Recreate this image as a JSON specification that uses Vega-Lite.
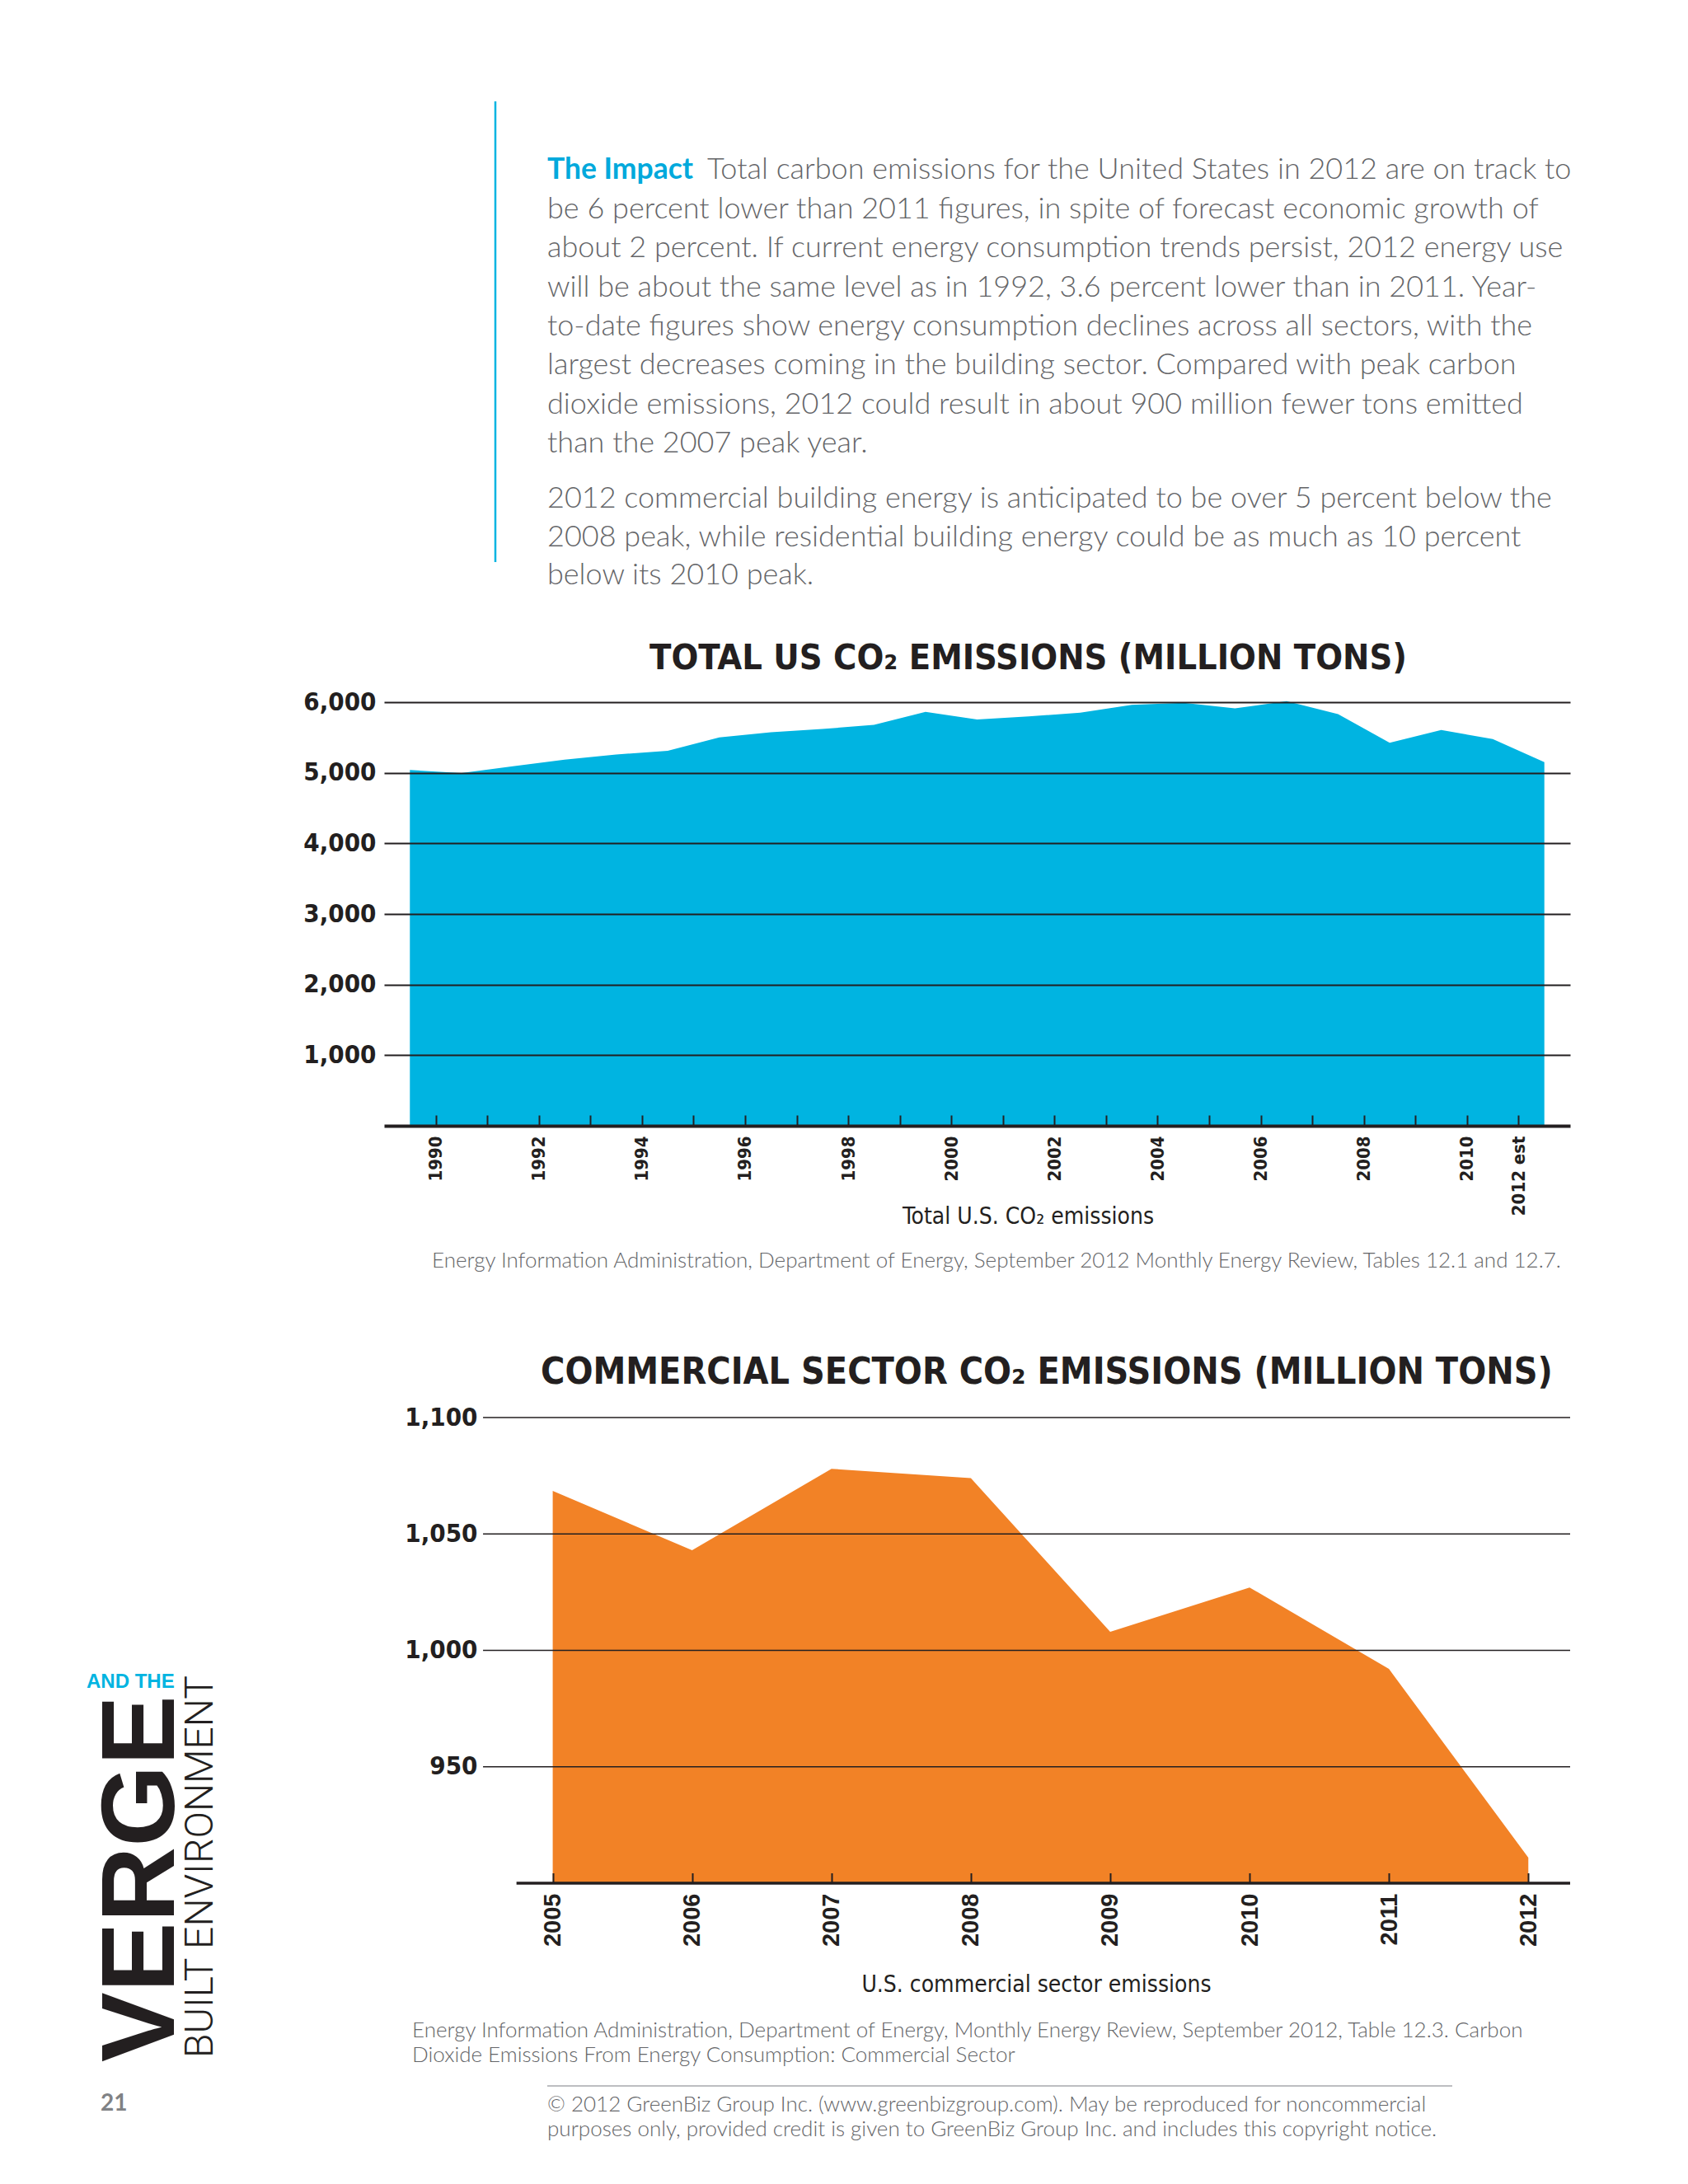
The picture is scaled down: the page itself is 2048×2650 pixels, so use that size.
{
  "$schema": "https://vega.github.io/schema/vega-lite/v6.json",
  "background": "white",
  "padding": {"left": 105, "top": 121, "right": 0, "bottom": 0},
  "spacing": 354,
  "bounds": "flush",
  "config": {"view": {"stroke": null}},
  "vconcat": [
    {
      "width": 1439,
      "height": 514,
      "data": {"values": [
        {"year": 1990, "co2": 5039}, {"year": 1991, "co2": 4996}, {"year": 1992, "co2": 5093},
        {"year": 1993, "co2": 5185}, {"year": 1994, "co2": 5260}, {"year": 1995, "co2": 5310},
        {"year": 1996, "co2": 5500}, {"year": 1997, "co2": 5575}, {"year": 1998, "co2": 5620},
        {"year": 1999, "co2": 5678}, {"year": 2000, "co2": 5862}, {"year": 2001, "co2": 5755},
        {"year": 2002, "co2": 5800}, {"year": 2003, "co2": 5850}, {"year": 2004, "co2": 5962},
        {"year": 2005, "co2": 5990}, {"year": 2006, "co2": 5912}, {"year": 2007, "co2": 6015},
        {"year": 2008, "co2": 5830}, {"year": 2009, "co2": 5425}, {"year": 2010, "co2": 5605},
        {"year": 2011, "co2": 5478}, {"year": 2012, "co2": 5150}
      ]},
      "layer": [
        {
          "mark": {"type": "area", "color": "#00b4e1", "opacity": 1},
          "encoding": {
            "x": {
              "field": "year", "type": "quantitative",
              "scale": {"domain": [1989.5, 2012.5], "nice": false, "zero": false},
              "axis": {
                "values": [1990.5, 1991.5, 1992.5, 1993.5, 1994.5, 1995.5, 1996.5, 1997.5, 1998.5, 1999.5, 2000.5, 2001.5, 2002.5, 2003.5, 2004.5, 2005.5, 2006.5, 2007.5, 2008.5, 2009.5, 2010.5, 2011.5],
                "labelExpr": "datum.value == 2011.5 ? '2012 est' : ((datum.value - 0.5) % 2 == 0 ? format(datum.value - 0.5, 'd') : '')",
                "labelAngle": 270, "labelAlign": "right", "labelBaseline": "middle",
                "labelFont": "Liberation Sans Narrow, DejaVu Sans Condensed, sans-serif",
                "labelFontSize": 22, "labelFontWeight": "bold", "labelColor": "#231f20",
                "labelPadding": 25, "labelOverlap": false, "labelFlush": false,
                "tickSize": -13, "tickWidth": 2, "tickColor": "#231f20",
                "domainColor": "#231f20", "domainWidth": 4, "grid": false,
                "title": "Total U.S. CO₂ emissions",
                "titleFont": "Liberation Sans Narrow, DejaVu Sans Condensed, sans-serif",
                "titleFontSize": 28, "titleFontWeight": "normal", "titleColor": "#231f20",
                "titleX": 781, "titleY": 118, "titleAlign": "center", "titleBaseline": "alphabetic",
                "zindex": 1
              }
            },
            "y": {
              "field": "co2", "type": "quantitative",
              "scale": {"domain": [0, 6000], "nice": false},
              "axis": {
                "values": [1000, 2000, 3000, 4000, 5000, 6000], "format": ",d",
                "labelFont": "Liberation Sans Narrow, DejaVu Sans Condensed, sans-serif",
                "labelFontSize": 31, "labelFontWeight": "bold", "labelColor": "#231f20",
                "labelPadding": 10, "ticks": false, "domain": false,
                "grid": true, "gridColor": "#231f20", "gridWidth": 2, "gridOpacity": 1,
                "title": null, "zindex": 1
              }
            }
          }
        },
        {
          "data": {"values": [{}]},
          "mark": {"type": "rule", "color": "#00b4e1", "strokeWidth": 2.5},
          "encoding": {"x": {"value": 135}, "y": {"value": -729}, "y2": {"value": -170}}
        },
        {
          "data": {"values": [{}]},
          "mark": {"type": "text", "text": "The Impact", "align": "left", "baseline": "alphabetic", "font": "Lato, Open Sans, sans-serif", "fontSize": 35.5, "fontWeight": "bold", "color": "#00a9dc"},
          "encoding": {"x": {"value": 198}, "y": {"value": -635}}
        },
        {
          "data": {"values": [{}]},
          "mark": {"type": "text", "text": "Total carbon emissions for the United States in 2012 are on track to", "align": "left", "baseline": "alphabetic", "font": "Lato, Open Sans, sans-serif", "fontSize": 36, "fontWeight": 300, "color": "#646568"},
          "encoding": {"x": {"value": 392}, "y": {"value": -635}}
        },
        {
          "data": {"values": [{}]},
          "mark": {"type": "text", "text": [
            "be 6 percent lower than 2011 figures, in spite of forecast economic growth of",
            "about 2 percent. If current energy consumption trends persist, 2012 energy use",
            "will be about the same level as in 1992, 3.6 percent lower than in 2011. Year-",
            "to-date figures show energy consumption declines across all sectors, with the",
            "largest decreases coming in the building sector. Compared with peak carbon",
            "dioxide emissions, 2012 could result in about 900 million fewer tons emitted",
            "than the 2007 peak year."
          ], "lineHeight": 47.3, "align": "left", "baseline": "alphabetic", "font": "Lato, Open Sans, sans-serif", "fontSize": 36, "fontWeight": 300, "color": "#646568"},
          "encoding": {"x": {"value": 198}, "y": {"value": -587}}
        },
        {
          "data": {"values": [{}]},
          "mark": {"type": "text", "text": [
            "2012 commercial building energy is anticipated to be over 5 percent below the",
            "2008 peak, while residential building energy could be as much as 10 percent",
            "below its 2010 peak."
          ], "lineHeight": 46.5, "align": "left", "baseline": "alphabetic", "font": "Lato, Open Sans, sans-serif", "fontSize": 36, "fontWeight": 300, "color": "#646568"},
          "encoding": {"x": {"value": 198}, "y": {"value": -236}}
        },
        {
          "data": {"values": [{}]},
          "mark": {"type": "text", "text": "TOTAL US CO₂ EMISSIONS (MILLION TONS)", "align": "left", "baseline": "alphabetic", "font": "Liberation Sans Narrow, DejaVu Sans Condensed, sans-serif", "fontSize": 43, "fontWeight": "bold", "color": "#231f20"},
          "encoding": {"x": {"value": 322}, "y": {"value": -40}}
        },
        {
          "data": {"values": [{}]},
          "mark": {"type": "text", "text": "Energy Information Administration, Department of Energy, September 2012 Monthly Energy Review, Tables 12.1 and 12.7.", "align": "left", "baseline": "alphabetic", "font": "Lato, Open Sans, sans-serif", "fontSize": 26, "fontWeight": 300, "color": "#646568"},
          "encoding": {"x": {"value": 58}, "y": {"value": 686}}
        }
      ]
    },
    {
      "width": 1439,
      "height": 565,
      "data": {"values": [
        {"year": 2005, "co2": 1068.5}, {"year": 2006, "co2": 1043}, {"year": 2007, "co2": 1078},
        {"year": 2008, "co2": 1074}, {"year": 2009, "co2": 1008}, {"year": 2010, "co2": 1027},
        {"year": 2011, "co2": 992}, {"year": 2012, "co2": 911}
      ]},
      "layer": [
        {
          "mark": {"type": "area", "color": "#f28226", "opacity": 1},
          "encoding": {
            "x": {
              "field": "year", "type": "quantitative",
              "scale": {"domain": [2003.79, 2012.3], "nice": false, "zero": false},
              "axis": {
                "values": [2005, 2006, 2007, 2008, 2009, 2010, 2011, 2012], "format": "d",
                "labelAngle": 270, "labelAlign": "right", "labelBaseline": "middle",
                "labelFont": "Liberation Sans, Arial, sans-serif",
                "labelFontSize": 29, "labelFontWeight": "bold", "labelColor": "#231f20",
                "labelPadding": 24.5, "labelOverlap": false, "labelFlush": false,
                "tickSize": -12.5, "tickWidth": 2, "tickColor": "#231f20",
                "domain": false, "grid": false,
                "title": "U.S. commercial sector emissions",
                "titleFont": "Liberation Sans Narrow, DejaVu Sans Condensed, sans-serif",
                "titleFontSize": 28, "titleFontWeight": "normal", "titleColor": "#231f20",
                "titleX": 791, "titleY": 131, "titleAlign": "center", "titleBaseline": "alphabetic",
                "zindex": 1
              }
            },
            "y": {
              "field": "co2", "type": "quantitative",
              "scale": {"domain": [900, 1100], "nice": false, "zero": false},
              "axis": {
                "values": [950, 1000, 1050, 1100], "format": ",d",
                "labelFont": "Liberation Sans Narrow, DejaVu Sans Condensed, sans-serif",
                "labelFontSize": 31, "labelFontWeight": "bold", "labelColor": "#231f20",
                "labelPadding": 8, "ticks": false, "domain": false, "grid": false,
                "offset": -121, "title": null
              }
            },
            "y2": {"datum": 900}
          }
        },
        {
          "data": {"values": [{"v": 950}, {"v": 1000}, {"v": 1050}, {"v": 1100}]},
          "mark": {"type": "rule", "color": "#231f20", "strokeWidth": 1.6},
          "encoding": {
            "y": {"field": "v", "type": "quantitative", "axis": {"title": null}},
            "x": {"datum": 2004.5},
            "x2": {"datum": 2012.3}
          }
        },
        {
          "data": {"values": [{}]},
          "mark": {"type": "rule", "color": "#231f20", "strokeWidth": 3.5},
          "encoding": {"y": {"datum": 900}, "x": {"datum": 2004.74}, "x2": {"datum": 2012.3}}
        },
        {
          "data": {"values": [{}]},
          "mark": {"type": "text", "text": "COMMERCIAL SECTOR CO₂ EMISSIONS (MILLION TONS)", "align": "left", "baseline": "alphabetic", "font": "Liberation Sans Narrow, DejaVu Sans Condensed, sans-serif", "fontSize": 44.5, "fontWeight": "bold", "color": "#231f20"},
          "encoding": {"x": {"value": 190}, "y": {"value": -41}}
        },
        {
          "data": {"values": [{}]},
          "mark": {"type": "text", "text": [
            "Energy Information Administration, Department of Energy, Monthly Energy Review, September 2012, Table 12.3. Carbon",
            "Dioxide Emissions From Energy Consumption: Commercial Sector"
          ], "lineHeight": 30, "align": "left", "baseline": "alphabetic", "font": "Lato, Open Sans, sans-serif", "fontSize": 26, "fontWeight": 300, "color": "#646568"},
          "encoding": {"x": {"value": 34}, "y": {"value": 752}}
        },
        {
          "data": {"values": [{}]},
          "mark": {"type": "rule", "color": "#a7a9ac", "strokeWidth": 1.5},
          "encoding": {"x": {"value": 198}, "x2": {"value": 1296}, "y": {"value": 811}}
        },
        {
          "data": {"values": [{}]},
          "mark": {"type": "text", "text": [
            "© 2012 GreenBiz Group Inc. (www.greenbizgroup.com).  May be reproduced for noncommercial",
            "purposes only, provided credit is given to GreenBiz Group Inc. and includes this copyright notice."
          ], "lineHeight": 30, "align": "left", "baseline": "alphabetic", "font": "Lato, Open Sans, sans-serif", "fontSize": 26, "fontWeight": 300, "color": "#646568"},
          "encoding": {"x": {"value": 198}, "y": {"value": 842}}
        },
        {
          "data": {"values": [{}]},
          "mark": {"type": "text", "text": "AND THE", "align": "left", "baseline": "alphabetic", "font": "Liberation Sans, Arial, sans-serif", "fontSize": 24, "fontWeight": "bold", "color": "#00b4e1"},
          "encoding": {"x": {"value": -361}, "y": {"value": 328}}
        },
        {
          "data": {"values": [{}]},
          "mark": {"type": "text", "text": "VERGE", "angle": 270, "align": "left", "baseline": "alphabetic", "font": "Liberation Sans, Arial, sans-serif", "fontSize": 127, "fontWeight": "bold", "color": "#231f20"},
          "encoding": {"x": {"value": -255}, "y": {"value": 782}}
        },
        {
          "data": {"values": [{}]},
          "mark": {"type": "text", "text": "BUILT ENVIRONMENT", "angle": 270, "align": "left", "baseline": "alphabetic", "font": "Roboto, sans-serif", "fontSize": 48, "fontWeight": 300, "color": "#231f20"},
          "encoding": {"x": {"value": -208}, "y": {"value": 777}}
        },
        {
          "data": {"values": [{}]},
          "mark": {"type": "text", "text": "21", "align": "left", "baseline": "alphabetic", "font": "Lato, sans-serif", "fontSize": 28, "fontWeight": "bold", "color": "#808285"},
          "encoding": {"x": {"value": -344}, "y": {"value": 841}}
        }
      ]
    }
  ]
}
